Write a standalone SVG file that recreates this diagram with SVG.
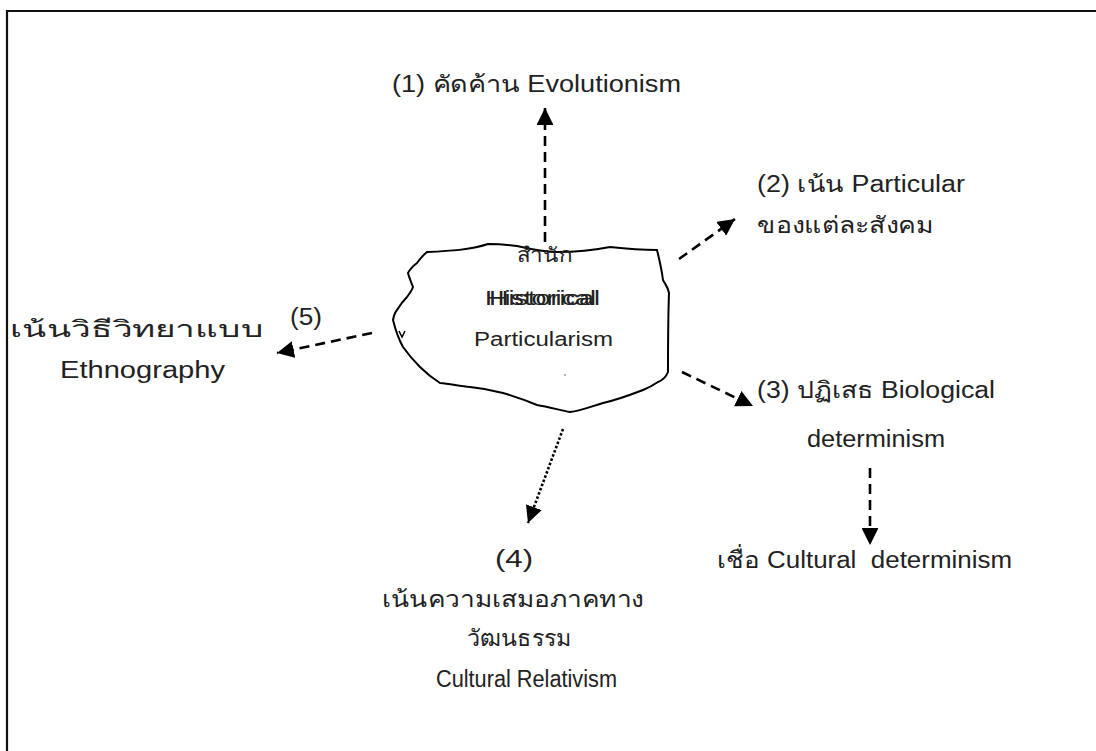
<svg xmlns="http://www.w3.org/2000/svg" width="1096" height="751" viewBox="0 0 1096 751">
  <style>
    .t { font-family: "Liberation Sans", "Noto Sans", "DejaVu Sans", sans-serif; font-size: 23px; fill: #222; white-space: pre; }
    .s { font-size: 20px; }
    .frame { fill: none; stroke: #111; stroke-width: 2.2; }
    .dash { fill: none; stroke: #000; stroke-width: 2.6; stroke-dasharray: 10 6; }
    .dot { fill: none; stroke: #000; stroke-width: 2.6; stroke-dasharray: 2.5 2; }
    .blob { fill: #fff; stroke: #000; stroke-width: 2; }
  </style>
  <defs>
    <marker id="ah" viewBox="0 0 10 10" refX="10" refY="5" markerWidth="6.5" markerHeight="6.5" markerUnits="strokeWidth" orient="auto">
      <path d="M0,0 L10,5 L0,10 z" fill="#000"/>
    </marker>
  </defs>

  <rect width="1096" height="751" fill="#fff"/>
  <!-- outer frame, open to the right and bottom -->
  <path class="frame" d="M7,751 L7,11 L1096,11"/>

  <!-- connectors -->
  <g id="connectors">
    <line class="dash" x1="545" y1="242" x2="545" y2="108" marker-end="url(#ah)"/>
    <line class="dash" x1="679" y1="259" x2="735" y2="219" marker-end="url(#ah)"/>
    <line class="dash" x1="682" y1="372" x2="753" y2="406" marker-end="url(#ah)"/>
    <line class="dash" x1="870" y1="468" x2="870" y2="545" marker-end="url(#ah)"/>
    <line class="dot" x1="563" y1="429" x2="528" y2="523" marker-end="url(#ah)"/>
    <line class="dash" x1="372" y1="333" x2="277" y2="353" marker-end="url(#ah)"/>
  </g>

  <!-- central school -->
  <g id="center">
    <path class="blob" d="M427,252 C450,251 470,250 488,244 C500,244 510,245 517,246 C530,249 545,252 557,252 C575,252 595,250 610,247 C628,249 645,250 657,250 C660,262 662,272 663,280 C665,284 668,287 669,293 C668,320 668,345 668,372 C666,377 663,380 658,382 C652,386 648,388 643,390 C630,395 617,400 603,403 C590,407 580,411 570,412 C560,410 548,407 537,405 C525,400 513,396 503,393 C492,390 480,388 470,387 C460,386 450,384 440,383 C432,378 425,372 420,367 C414,361 408,354 403,347 C398,338 395,328 393,320 C394,315 395,312 397,310 C400,305 404,300 407,297 C410,293 412,290 413,287 C411,282 409,277 408,273 C410,269 413,266 417,263 C420,259 423,255 427,252 Z"/>
    <path d="M399,331 L402,337 L405,331" fill="none" stroke="#000" stroke-width="1.5"/>
    <circle cx="565" cy="375" r="0.8" fill="#555"/>
    <text class="t s" x="517" y="262" textLength="55" lengthAdjust="spacingAndGlyphs">สำนัก</text>
    <text class="t s" x="485" y="305" textLength="111" lengthAdjust="spacingAndGlyphs">Historical</text>
    <text class="t s" x="489" y="305" textLength="111" lengthAdjust="spacingAndGlyphs">Historical</text>
    <text class="t s" x="474" y="346" textLength="139" lengthAdjust="spacingAndGlyphs">Particularism</text>
  </g>

  <g id="n1">
    <text class="t" x="392" y="92" textLength="289" lengthAdjust="spacingAndGlyphs">(1) คัดค้าน Evolutionism</text>
  </g>
  <g id="n2">
    <text class="t" x="757" y="192" textLength="208" lengthAdjust="spacingAndGlyphs">(2) เน้น Particular</text>
    <text class="t" x="757" y="233" textLength="176" lengthAdjust="spacingAndGlyphs">ของแต่ละสังคม</text>
  </g>
  <g id="n3">
    <text class="t" x="757" y="398" textLength="238" lengthAdjust="spacingAndGlyphs">(3) ปฏิเสธ Biological</text>
    <text class="t" x="807" y="447" textLength="138" lengthAdjust="spacingAndGlyphs">determinism</text>
  </g>
  <g id="n3b">
    <text class="t" x="717" y="568" textLength="295" lengthAdjust="spacingAndGlyphs">เชื่อ Cultural  determinism</text>
  </g>
  <g id="n4">
    <text class="t" x="495" y="567" textLength="38" lengthAdjust="spacingAndGlyphs">(4)</text>
    <text class="t" x="382" y="607" textLength="262" lengthAdjust="spacingAndGlyphs">เน้นความเสมอภาคทาง</text>
    <text class="t" x="467" y="646" textLength="104" lengthAdjust="spacingAndGlyphs">วัฒนธรรม</text>
    <text class="t" x="436" y="687" textLength="181" lengthAdjust="spacingAndGlyphs">Cultural Relativism</text>
  </g>
  <g id="n5">
    <text class="t" x="290" y="325" textLength="32" lengthAdjust="spacingAndGlyphs">(5)</text>
    <text class="t" x="10" y="337" textLength="254" lengthAdjust="spacingAndGlyphs">เน้นวิธีวิทยาแบบ</text>
    <text class="t" x="60" y="378" textLength="165" lengthAdjust="spacingAndGlyphs">Ethnography</text>
  </g>
</svg>
